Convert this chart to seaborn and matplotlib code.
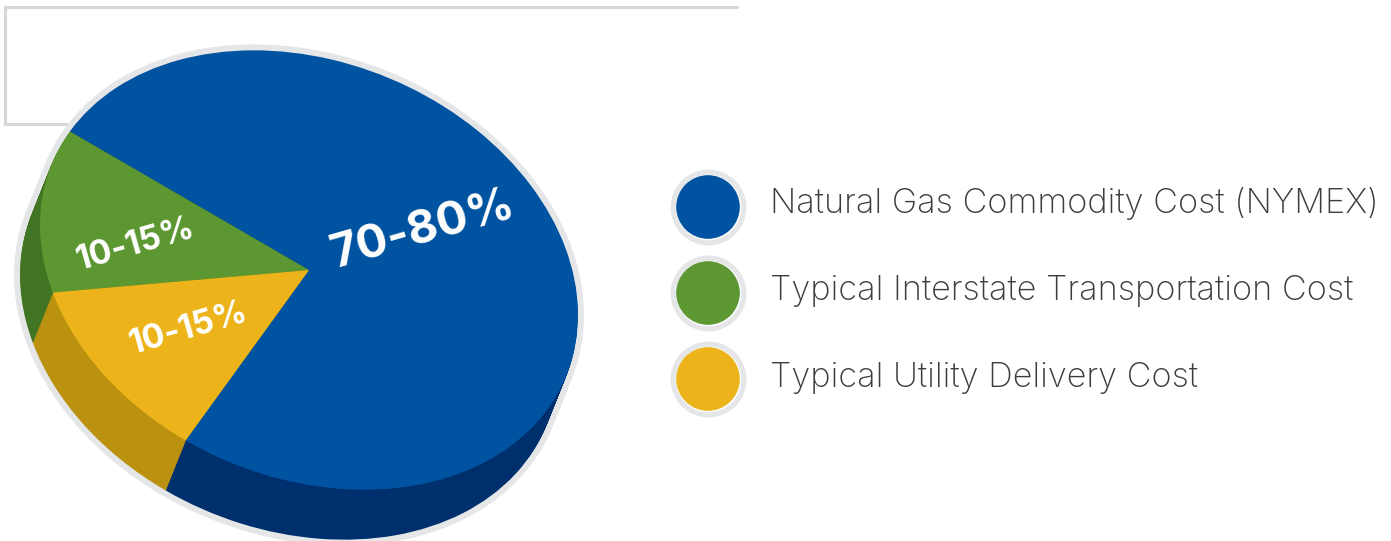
"""
Cost breakdown of delivered natural gas, drawn as a tilted pie with a side wall.
"""

import matplotlib
matplotlib.use("Agg")
import matplotlib.pyplot as plt
import pandas as pd
import seaborn as sns
from matplotlib.transforms import Affine2D

categories = [
    "Natural Gas Commodity Cost (NYMEX)",
    "Typical Interstate Transportation Cost",
    "Typical Utility Delivery Cost",
]
shares = [75, 12.5, 12.5]
share_labels = ["70-80%", "10-15%", "10-15%"]

top_colours = ["#0053a0", "#5c9731", "#ecb41a"]
side_colours = ["#002f6e", "#427523", "#bb920f"]
ring_colour = "#e5e6e8"
frame_colour = "#d6d7d8"

sns.set_theme(style="white")
plt.rcParams["font.family"] = ["Inter", "DejaVu Sans"]

fig = plt.figure(figsize=(13.91, 5.41), dpi=100)
ax = fig.add_axes([0, 0, 1, 1])


def tilt(dx=0, dy=0):
    # unit circle -> sheared ellipse in pixel-like data units (y runs down)
    return Affine2D.from_values(269, 45, 0, -215, 309 + dx, 270 + dy) + ax.transData


def draw_pie(values, colours, dx, dy, zorder, edge=None, width=0):
    wedges, _ = ax.pie(
        values, colors=colours, startangle=242.7, counterclock=True,
        wedgeprops={"linewidth": width, "edgecolor": edge or "none"},
    )
    for wedge in wedges:
        wedge.set_transform(tilt(dx, dy))
        wedge.set_zorder(zorder)
        wedge.set_clip_on(True)


depth = 50
# grey halo behind the whole body
for step in range(depth, -1, -2):
    draw_pie([1], [ring_colour], -20 * step / depth, step, 1, edge=ring_colour, width=8.6)
# side wall
for step in range(depth, 0, -1):
    draw_pie(shares, side_colours, -20 * step / depth, step, 2)
# top face
draw_pie(shares, top_colours, 0, 0, 3)

ax.set_xlim(0, 1391)
ax.set_ylim(541, 0)
ax.set_aspect("auto")
ax.axis("off")

# bracket behind the pie
ax.plot([738, 5, 5, 68], [7, 7, 124, 124], color=frame_colour, lw=2.2, zorder=0,
        solid_joinstyle="miter", solid_capstyle="butt")

# percentage labels
ax.text(423, 230, share_labels[0], color="white", fontsize=33.5, fontweight="bold",
        rotation=16, ha="center", va="center", zorder=5, rotation_mode="anchor")
ax.text(135, 245, share_labels[1], color="white", fontsize=24, fontweight="bold",
        rotation=16, ha="center", va="center", zorder=5, rotation_mode="anchor")
ax.text(188, 329, share_labels[2], color="white", fontsize=24, fontweight="bold",
        rotation=16, ha="center", va="center", zorder=5, rotation_mode="anchor")

# legend
legend = pd.DataFrame({"x": [708] * 3, "y": [207, 293, 379], "name": categories})
sns.scatterplot(data=legend, x="x", y="y", s=2990, color=ring_colour, linewidth=0,
                ax=ax, legend=False, zorder=4)
sns.scatterplot(data=legend, x="x", y="y", s=2230, color="white", linewidth=0,
                ax=ax, legend=False, zorder=5)
sns.scatterplot(data=legend, x="x", y="y", s=2100, hue="name", palette=top_colours,
                linewidth=0, ax=ax, legend=False, zorder=6)
for name, y in zip(legend["name"], [204, 291, 378]):
    ax.text(770, y, name, color="#3d3d3f", fontsize=24.7, fontweight="light",
            va="center", ha="left", zorder=6)
ax.set_xlabel("")
ax.set_ylabel("")

fig.savefig("out.png", dpi=100)
plt.close(fig)
